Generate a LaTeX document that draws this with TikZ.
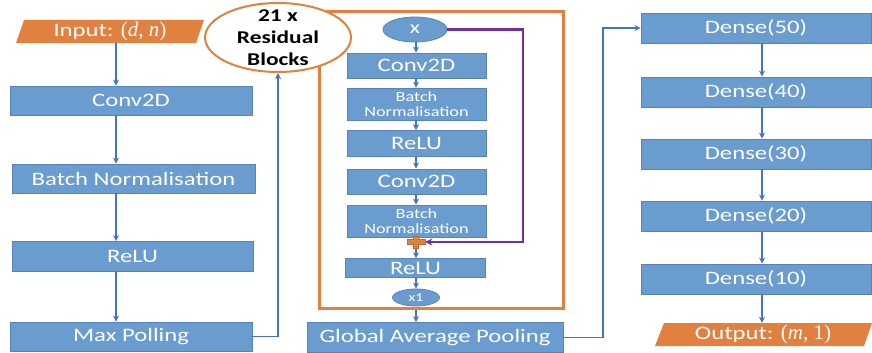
\documentclass[tikz,border=0pt]{standalone}
\usepackage{fontspec}
\setmainfont[FakeStretch=1.3]{Carlito}
\newfontfamily\symfont{Liberation Serif}
\usetikzlibrary{arrows.meta,shapes.geometric}
\definecolor{boxblue}{RGB}{106,156,208}
\definecolor{boxedge}{RGB}{88,130,184}
\definecolor{arrblue}{RGB}{68,114,196}
\definecolor{orng}{RGB}{226,128,64}
\definecolor{orngdark}{RGB}{196,104,44}
\definecolor{purp}{RGB}{112,48,160}
\newcommand{\shapevars}[1]{{\symfont\fontsize{21}{22}\selectfont #1}}

\begin{document}
\begin{tikzpicture}[x=1pt,y=-1pt,
  blk/.style={draw=boxedge, line width=0.8pt, fill=boxblue, text=white, inner sep=0pt,
              font=\fontsize{19}{22}\selectfont},
  smallblk/.style={blk, align=center, font=\fontsize{14}{15}\selectfont},
  lblk/.style={blk, minimum width=242pt, minimum height=29pt},
  iblk/.style={blk, minimum width=139pt},
  dblk/.style={blk, minimum width=230pt, minimum height=30pt},
  oval/.style={ellipse, draw=boxedge, line width=0.8pt, fill=boxblue, text=white, inner sep=0pt},
  arr/.style={draw=arrblue, line width=1.7pt, -{Stealth[length=6pt,width=6pt]}},
  iotext/.style={text=white, inner sep=0pt, font=\fontsize{19}{22}\selectfont}
]
\useasboundingbox (0,0) rectangle (872,353);

% column positions of the vertical connectors
\coordinate (lx) at (116,0);
\coordinate (ix) at (416,0);
\coordinate (rx) at (762,0);
\coordinate (px) at (523,0);
\coordinate (gx) at (603,0);

% ---------- left column ----------
\fill[orng] (16,43) -- (196,43) -- (204,20) -- (24,20) -- cycle;
\node[iotext, minimum width=180pt, minimum height=23pt] (in) at (110,31.5)
  {Input: \shapevars{(\textit{d}, \textit{n})}};
\node[lblk] (c1) at (131,100.5) {Conv2D};
\node[lblk, minimum width=243pt] (bn1) at (133.5,178.5) {Batch Normalisation};
\node[lblk, minimum width=241pt, minimum height=30pt] (r1) at (132.5,256.5) {ReLU};
\node[lblk] (mp) at (131,336.5) {Max Polling};

\draw[arr] (in.south -| lx) -- (c1.north -| lx);
\draw[arr] (c1.south -| lx) -- (bn1.north -| lx);
\draw[arr] (bn1.south -| lx) -- (r1.north -| lx);
\draw[arr] (r1.south -| lx) -- (mp.north -| lx);

% ---------- residual block ----------
\node[draw=orng, line width=3pt, minimum width=244pt, minimum height=296pt, inner sep=0pt] (rb) at (441,160) {};

\node[ellipse, draw=orng, fill=white, line width=2pt, minimum width=146pt, minimum height=69pt, inner sep=0pt] (res) at (278,37.5) {};
\node[align=center, inner sep=0pt, font=\bfseries\fontsize{18}{22}\selectfont] (restext) at (278,38) {21 x\\Residual\\Blocks};
\draw[arr] (mp.east) -| (res.south);

\node[oval, minimum width=64pt, minimum height=25pt, font=\fontsize{18}{18}\selectfont] (xin) at (415,29.5) {x};
\node[iblk, minimum height=25pt] (c2) at (416.5,65.5) {Conv2D};
\node[smallblk, minimum width=139pt, minimum height=32pt] (bn2) at (416.5,104) {Batch\\Normalisation};
\node[iblk, minimum height=26pt] (r2) at (416.5,143.5) {ReLU};
\node[iblk, minimum height=25pt] (c3) at (416.5,181.5) {Conv2D};
\node[smallblk, minimum width=139pt, minimum height=32pt] (bn3) at (416.5,221) {Batch\\Normalisation};
\node[minimum width=18pt, minimum height=12pt, inner sep=0pt] (plus) at (416,242) {};
\node[iblk, minimum width=140pt, minimum height=19pt] (r3) at (415.5,268) {ReLU};
\node[oval, minimum width=47pt, minimum height=17pt, font=\fontsize{12}{13}\selectfont] (x1) at (416,297.5) {x1};

\draw[arr] (xin.south -| ix) -- (c2.north -| ix);
\draw[arr] (c2.south -| ix) -- (bn2.north -| ix);
\draw[arr] (bn2.south -| ix) -- (r2.north -| ix);
\draw[arr] (r2.south -| ix) -- (c3.north -| ix);
\draw[arr] (c3.south -| ix) -- (bn3.north -| ix);
\draw[draw=arrblue, line width=1.7pt] (bn3.south -| ix) -- (plus.center);
\draw[arr] (plus.center) -- (r3.north -| ix);
\draw[arr] (r3.south -| ix) -- (x1.north -| ix);

% skip connection
\draw[purp, line width=2.2pt, -{Stealth[length=7pt,width=7pt]}]
  (xin.east) -- (xin.east -| px) |- (plus.east);

% addition sign
\fill[orng, draw=orngdark, line width=0.5pt, shift={(plus.center)}]
  (-9,-2.5) -- (-2.5,-2.5) -- (-2.5,-6) -- (2.5,-6) -- (2.5,-2.5) -- (9,-2.5)
  -- (9,2.5) -- (2.5,2.5) -- (2.5,6) -- (-2.5,6) -- (-2.5,2.5) -- (-9,2.5) -- cycle;

\node[blk, minimum width=256pt, minimum height=30pt] (gap) at (435,337.5) {Global Average Pooling};
\draw[arr] (rb.south -| ix) -- (gap.north -| ix);

% ---------- dense head ----------
\node[dblk] (d50) at (756,28) {Dense(50)};
\node[dblk] (d40) at (756,92) {Dense(40)};
\node[dblk] (d30) at (756,154) {Dense(30)};
\node[dblk] (d20) at (756,216) {Dense(20)};
\node[dblk] (d10) at (756,279) {Dense(10)};
\fill[orng] (655,346) -- (864,346) -- (872,323) -- (664,323) -- cycle;
\node[iotext, minimum width=200pt, minimum height=23pt] (out) at (763,334.5)
  {Output: \shapevars{(\textit{m}, 1)}};

\draw[arr] (gap.east) -- (gap.east -| gx) |- (d50.west);
\draw[arr] (d50.south -| rx) -- (d40.north -| rx);
\draw[arr] (d40.south -| rx) -- (d30.north -| rx);
\draw[arr] (d30.south -| rx) -- (d20.north -| rx);
\draw[arr] (d20.south -| rx) -- (d10.north -| rx);
\draw[arr] (d10.south -| rx) -- (out.north -| rx);
\end{tikzpicture}
\end{document}
